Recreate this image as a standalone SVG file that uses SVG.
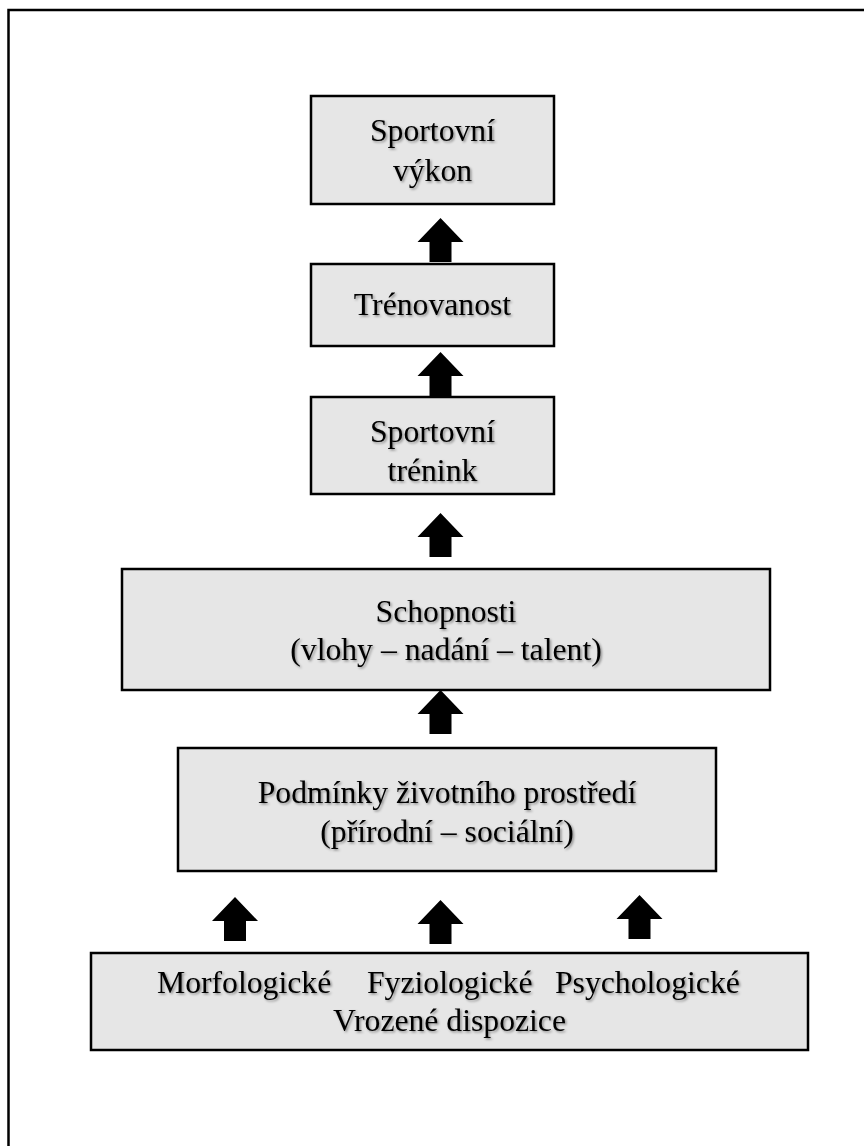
<svg xmlns="http://www.w3.org/2000/svg" xmlns:xlink="http://www.w3.org/1999/xlink" width="864" height="1146" viewBox="0 0 864 1146">
  <defs>
    <style>
      .box { fill: #e6e6e6; stroke: #000; stroke-width: 2.5; }
      .lbl { font-family: "Liberation Serif", "Times New Roman", serif; font-size: 31.7px; fill: #000; text-anchor: middle; filter: url(#shadow); }
      .frame { stroke: #000; stroke-width: 2.5; fill: none; }
      .arrow { fill: #000; }
    </style>
    <filter id="shadow" x="-10%" y="-20%" width="120%" height="150%">
      <feDropShadow dx="1.5" dy="1.5" stdDeviation="1" flood-color="#000" flood-opacity="0.4"/>
    </filter>
    <path id="blockArrow" d="M0,0 L23,24 L11,24 L11,44 L-11,44 L-11,24 L-23,24 Z"/>
  </defs>
  <rect width="864" height="1146" fill="#fff"/>
  <path class="frame" d="M8.5,1146 L8.5,10 L864,10"/>

  <g id="connectors">
    <use class="arrow" xlink:href="#blockArrow" x="440.5" y="218"/>
    <use class="arrow" xlink:href="#blockArrow" x="440.5" y="352"/>
    <use class="arrow" xlink:href="#blockArrow" x="440.5" y="513"/>
    <use class="arrow" xlink:href="#blockArrow" x="440.5" y="690"/>
    <use class="arrow" xlink:href="#blockArrow" x="235" y="897"/>
    <use class="arrow" xlink:href="#blockArrow" x="440.5" y="900"/>
    <use class="arrow" xlink:href="#blockArrow" x="639.5" y="895"/>
  </g>

  <g id="node-vykon">
    <rect class="box" x="311" y="96" width="243" height="108"/>
    <text class="lbl" x="432.5" y="141">Sportovní</text>
    <text class="lbl" x="432.5" y="181">výkon</text>
  </g>
  <g id="node-trenovanost">
    <rect class="box" x="311" y="264" width="243" height="82"/>
    <text class="lbl" x="432.5" y="315">Trénovanost</text>
  </g>
  <g id="node-trenink">
    <rect class="box" x="311" y="397" width="243" height="97"/>
    <text class="lbl" x="432.5" y="442">Sportovní</text>
    <text class="lbl" x="432.5" y="481">trénink</text>
  </g>
  <g id="node-schopnosti">
    <rect class="box" x="122" y="569" width="648" height="121"/>
    <text class="lbl" x="446" y="622">Schopnosti</text>
    <text class="lbl" x="446" y="660">(vlohy – nadání – talent)</text>
  </g>
  <g id="node-podminky">
    <rect class="box" x="178" y="748" width="538" height="123"/>
    <text class="lbl" x="447" y="803">Podmínky životního prostředí</text>
    <text class="lbl" x="447" y="842">(přírodní – sociální)</text>
  </g>
  <g id="node-dispozice">
    <rect class="box" x="91" y="953" width="717" height="97"/>
    <text class="lbl" style="text-anchor:start"><tspan x="157" y="993">Morfologické</tspan><tspan x="367" y="993">Fyziologické</tspan><tspan x="555" y="993">Psychologické</tspan></text>
    <text class="lbl" x="449.5" y="1031">Vrozené dispozice</text>
  </g>
</svg>
